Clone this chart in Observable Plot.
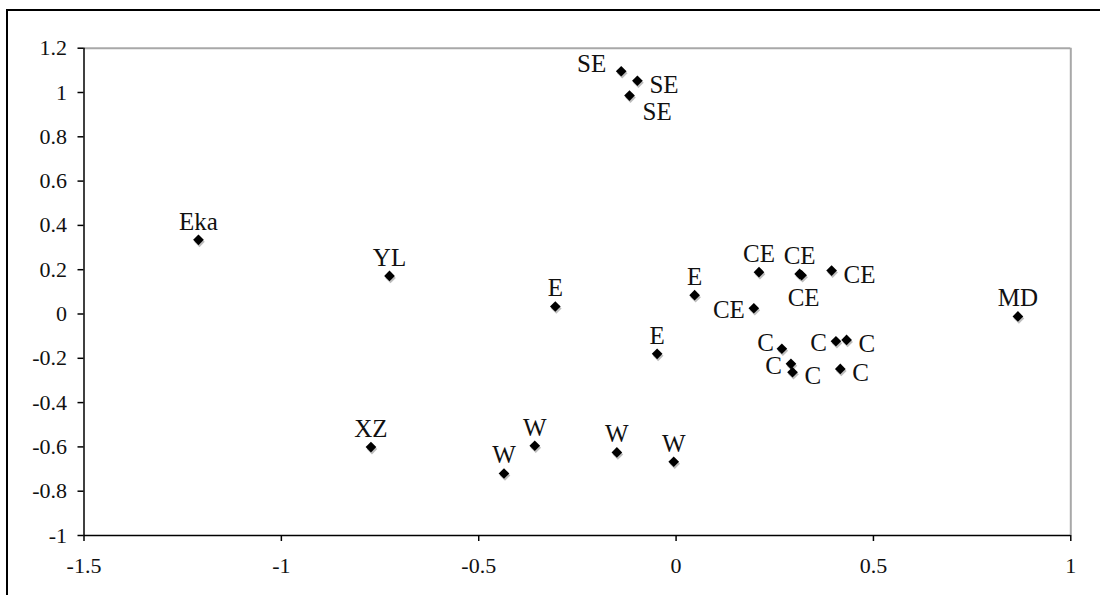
<!DOCTYPE html>
<html>
<head>
<meta charset="utf-8">
<script src="https://cdn.jsdelivr.net/npm/d3@7"></script>
<script src="https://cdn.jsdelivr.net/npm/@observablehq/plot@0.6"></script>
<style>
  html, body { margin: 0; padding: 0; background: #fff; }
  #wrap { position: relative; width: 1100px; height: 595px; overflow: hidden; }
  #frame { position: absolute; left: 6px; top: 9px; right: -10px; bottom: -10px;
           border-top: 2px solid #000; border-left: 2px solid #000; pointer-events: none; }
  #chart { position: absolute; left: 0; top: 0; }
</style>
</head>
<body>
<div id="wrap"><div id="chart"></div><div id="frame"></div></div>
<script>
// Point labels (regions), coordinates
const labels = ["Eka","YL","XZ","SE","SE","SE","E","E","E","W","W","W","W",
                "CE","CE","CE","CE","CE","C","C","C","C","C","C","MD"];
const xValues = [-1.210,-0.726,-0.773,-0.139,-0.098,-0.118,-0.306,0.047,-0.048,
                 -0.436,-0.358,-0.150,-0.006,
                 0.210,0.313,0.394,0.318,0.197,
                 0.268,0.405,0.432,0.291,0.295,0.416,0.866];
const yValues = [0.335,0.172,-0.601,1.096,1.053,0.986,0.034,0.085,-0.180,
                 -0.720,-0.595,-0.625,-0.667,
                 0.189,0.181,0.196,0.175,0.026,
                 -0.157,-0.123,-0.117,-0.225,-0.263,-0.248,-0.011];
// which side of its marker each label sits on
const labelSide = ["above","above","above","upperleft","right","lowerright","above","above","above",
                   "above","above","above","above",
                   "above","above","right","below","left",
                   "leftup","left","right","left","right","right","above"];
const xTicks = [-1.5,-1,-0.5,0,0.5,1];
const yTicks = [-1,-0.8,-0.6,-0.4,-0.2,0,0.2,0.4,0.6,0.8,1,1.2];

const data = labels.map((label, i) => ({label, x: xValues[i], y: yValues[i], side: labelSide[i]}));

const font = "'Liberation Serif', 'Times New Roman', serif";
const sides = {
  above:      {dx: 0,   dy: -18, textAnchor: "middle"},
  below:      {dx: 2,   dy: 23,  textAnchor: "middle"},
  left:       {dx: -9,  dy: 2,   textAnchor: "end"},
  leftup:     {dx: -8,  dy: -6,  textAnchor: "end"},
  right:      {dx: 12,  dy: 4,   textAnchor: "start"},
  upperleft:  {dx: -15, dy: -7,  textAnchor: "end"},
  lowerright: {dx: 13,  dy: 16,  textAnchor: "start"}
};

const textMarks = Object.entries(sides).map(([side, o]) =>
  Plot.text(data.filter(d => d.side === side), {
    x: "x", y: "y", text: "label", dx: o.dx, dy: o.dy, textAnchor: o.textAnchor,
    fontSize: 25, fontFamily: font, fill: "#111"
  })
);

const chart = Plot.plot({
  width: 1100,
  height: 595,
  marginLeft: 83.5,
  marginTop: 47.7,
  marginRight: 29.7,
  marginBottom: 60,
  style: {background: "transparent", fontFamily: font},
  x: {domain: [-1.5, 1]},
  y: {domain: [-1, 1.2]},
  marks: [
    Plot.ruleY([1.2], {stroke: "#a8a8a8", strokeWidth: 2}),
    Plot.ruleX([1], {stroke: "#a8a8a8", strokeWidth: 2}),
    Plot.ruleY([-1], {stroke: "#000", strokeWidth: 1.5}),
    Plot.ruleX([-1.5], {stroke: "#000", strokeWidth: 1.5}),
    Plot.axisX({ticks: xTicks, tickFormat: d => String(d), tickSize: 6, tickPadding: 16,
                fontSize: 22, fontFamily: font, stroke: "#000", strokeWidth: 1.5, fill: "#111", label: null}),
    Plot.axisY({ticks: yTicks, tickFormat: d => String(+d.toFixed(1)), tickSize: 6, tickPadding: 11,
                fontSize: 22, fontFamily: font, stroke: "#000", strokeWidth: 1.5, fill: "#111", label: null}),
    Plot.dot(data, {x: "x", y: "y", symbol: "diamond2", r: 4.8, fill: "#bdbdbd", dx: 1, dy: 2}),
    Plot.dot(data, {x: "x", y: "y", symbol: "diamond2", r: 4.8, fill: "#000"}),
    ...textMarks
  ]
});
document.getElementById("chart").appendChild(chart);
</script>
</body>
</html>
